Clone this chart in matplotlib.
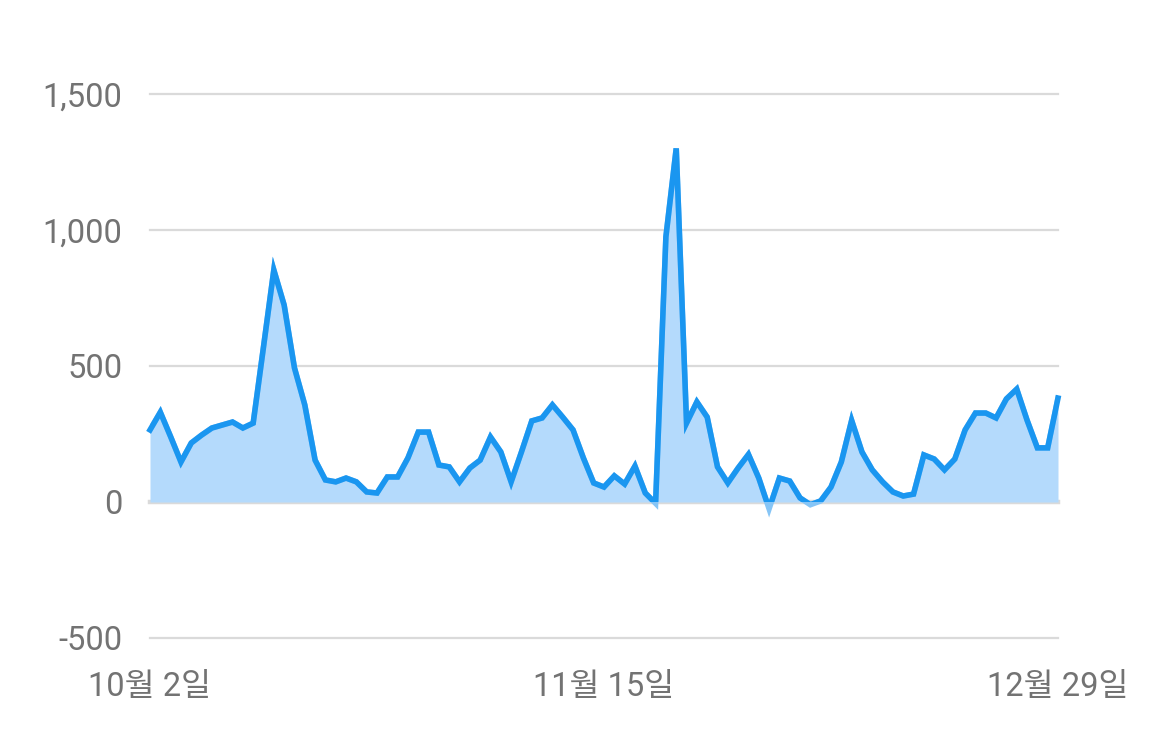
import matplotlib
matplotlib.use('Agg')
import matplotlib.pyplot as plt
from matplotlib.patches import Rectangle
import numpy as np

# daily values, 10월 2일 .. 12월 29일 (89 days)
values = [
    265, 330, 240, 147, 217, 246, 272, 283, 294, 272,
    290, 570, 853, 724, 493, 357, 154, 81, 74, 88,
    74, 37, 33, 92, 92, 162, 257, 257, 136, 129,
    74, 125, 154, 239, 184, 74, 184, 298, 309, 357,
    312, 265, 162, 70, 55, 96, 66, 132, 33, -5,
    975, 1300, 290, 368, 312, 129, 70, 125, 175, 88,
    -25, 88, 77, 15, -10, 4, 55, 147, 300, 184,
    118, 74, 37, 22, 29, 173, 158, 118, 158, 265,
    327, 327, 309, 379, 415, 301, 199, 199, 382,
]
x_tick_pos = [0, 44, 88]
x_tick_labels = ['10월 2일', '11월 15일', '12월 29일']
y_ticks = [-500, 0, 500, 1000, 1500]
y_tick_labels = ['-500', '0', '500', '1,000', '1,500']

plt.rcParams['font.family'] = ['Roboto', 'Noto Sans CJK KR', 'DejaVu Sans']

W, H = 1170, 751
fig = plt.figure(figsize=(W / 100, H / 100), dpi=100)
ax = fig.add_axes([150 / W, 1 - 638 / H, (1058 - 150) / W, (638 - 94) / H])

x = np.arange(len(values))
y = np.array(values)

ax.set_xlim(0, len(values) - 1)
ax.set_ylim(-500, 1500)

# grid lines
for t in y_ticks:
    lw = 3.2 if t == 0 else 1.6
    ax.axhline(t, color='#dadada', lw=lw, zorder=1, clip_on=False)

ax.fill_between(x, y, 0, color='#b4dafc', lw=0, zorder=2)
# lighter stroke for the part below zero, full colour above
ax.plot(x, y, color='#86c5f6', lw=4, zorder=3, solid_joinstyle='miter')
line, = ax.plot(x, y, color='#1a96f0', lw=4, zorder=4, solid_joinstyle='miter')
clip = Rectangle((-1, 0), len(values) + 2, 2000, transform=ax.transData)
line.set_clip_path(clip)

for s in ax.spines.values():
    s.set_visible(False)
ax.set_yticks(y_ticks)
ax.set_yticklabels(y_tick_labels)
ax.set_xticks(x_tick_pos)
ax.set_xticklabels(x_tick_labels)
ax.tick_params(axis='both', length=0, labelsize=23.5, colors='#737373')
ax.tick_params(axis='y', pad=20)
ax.tick_params(axis='x', pad=24)

fig.savefig('out.png', dpi=100)
